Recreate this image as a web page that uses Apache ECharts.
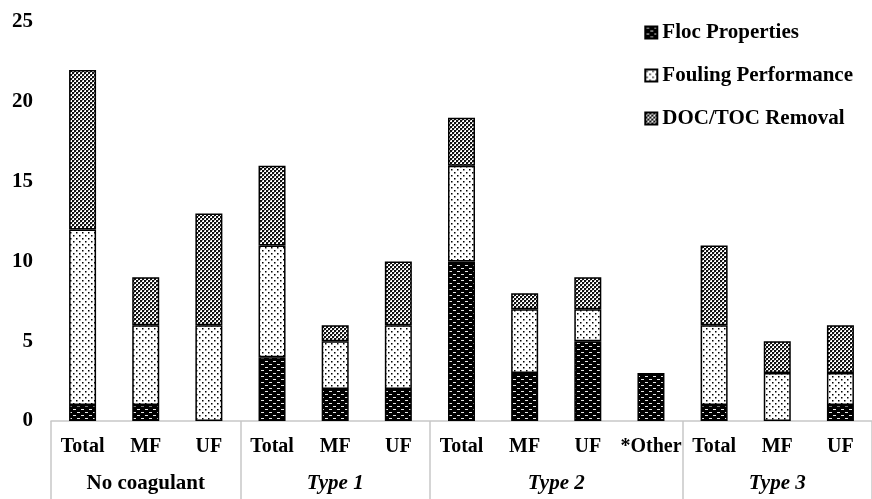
<!DOCTYPE html>
<html><head><meta charset="utf-8">
<script src="https://cdn.jsdelivr.net/npm/echarts@6/dist/echarts.min.js"></script>
<style>html,body{margin:0;padding:0;background:#fff}#c{width:872px;height:499px}</style>
</head><body><div id="c"></div>
<script>
const categories = ['Total','MF','UF','Total','MF','UF','Total','MF','UF','*Other','Total','MF','UF'];
const groupNames = ['No coagulant','Type 1','Type 2','Type 3'];
const groupSizes = [3,3,4,3];
const groupItalic = [false,true,true,true];
const flocProperties     = [1,1,0, 4,2,2, 10,3,5,3, 1,0,1];
const foulingPerformance = [11,5,6, 7,3,4, 6,4,2,0, 5,3,2];
const docTocRemoval      = [10,3,7, 5,1,4, 3,1,2,0, 5,2,3];
const yTicks = [0,5,10,15,20,25];

function tile(w,h,draw){const c=document.createElement('canvas');c.width=w;c.height=h;const g=c.getContext('2d');draw(g);return c;}
const flocPat = tile(8,6,g=>{g.fillStyle='#000';g.fillRect(0,0,8,6);g.fillStyle='#e8e8e8';g.fillRect(1,1,3,1);g.fillRect(5,4,3,1);});
const foulPat = tile(6,6,g=>{g.fillStyle='#fff';g.fillRect(0,0,6,6);g.fillStyle='#000';g.fillRect(1,1,1.5,1.5);g.fillRect(4,4,1.5,1.5);});
const docPat = tile(4,4,g=>{g.fillStyle='#fff';g.fillRect(0,0,4,4);g.fillStyle='#111';g.fillRect(0,0,2,2);g.fillRect(2,2,2,2);g.fillStyle='#999';g.fillRect(2,0,1,1);g.fillRect(0,2,1,1);});

const font = '"Liberation Serif","Times New Roman",serif';
const starts=[];let acc=0;groupSizes.forEach(s=>{starts.push(acc);acc+=s;});
const sepValues=[...starts,acc];
const centers=groupSizes.map((s,i)=>starts[i]+s/2);

function mk(name,data,pat){
  return {name,type:'bar',stack:'a',barWidth:27,xAxisIndex:0,
    data:data.map(v=>v===0?null:v),
    itemStyle:{color:{image:pat,repeat:'repeat'},borderColor:'#000',borderWidth:1.5},
    emphasis:{disabled:true}};
}

const chart = echarts.init(document.getElementById('c'));
chart.setOption({
  animation:false,
  textStyle:{fontFamily:font},
  grid:{left:51,right:0,top:22,bottom:78,containLabel:false},
  legend:{orient:'vertical',right:14,top:17,itemGap:22,itemWidth:12,itemHeight:12,icon:'rect',
    textStyle:{fontFamily:font,fontSize:21,fontWeight:'bold',color:'#000'},
    data:['Floc Properties','Fouling Performance','DOC/TOC Removal']},
  xAxis:[
    {type:'category',data:categories,position:'bottom',
     axisLine:{lineStyle:{color:'#c8c8c8',width:1.5}},axisTick:{show:false},
     axisLabel:{interval:0,margin:16,fontFamily:font,fontSize:20,fontWeight:'bold',color:'#000'}},
    {type:'value',min:0,max:acc,position:'bottom',
     axisLine:{show:false},splitLine:{show:false},
     axisTick:{show:true,customValues:sepValues,length:78,lineStyle:{color:'#c8c8c8',width:1.5}},
     axisLabel:{customValues:centers,margin:52,fontFamily:font,fontSize:21,fontWeight:'bold',color:'#000',
       formatter:v=>{const i=centers.indexOf(v);return groupItalic[i]?'{i|'+groupNames[i]+'}':groupNames[i];},
       rich:{i:{fontStyle:'italic',fontWeight:'bold',fontSize:21,fontFamily:font,color:'#000'}}}}
  ],
  yAxis:{type:'value',min:yTicks[0],max:yTicks[yTicks.length-1],interval:5,
    axisLine:{show:false},axisTick:{show:false},splitLine:{show:false},
    axisLabel:{margin:18,fontFamily:font,fontSize:21,fontWeight:'bold',color:'#000'}},
  series:[
    mk('Floc Properties',flocProperties,flocPat),
    mk('Fouling Performance',foulingPerformance,foulPat),
    mk('DOC/TOC Removal',docTocRemoval,docPat)
  ]
});
</script></body></html>
